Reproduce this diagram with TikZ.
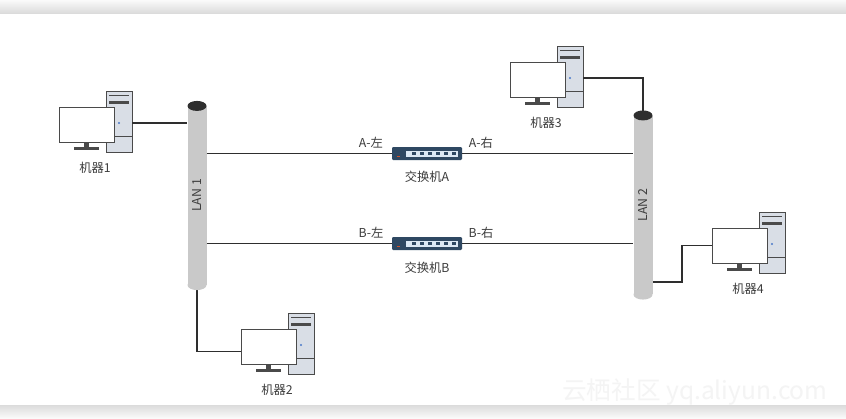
\documentclass[tikz,border=0pt]{standalone}
\usepackage{fontspec}
\setmainfont{Noto Sans CJK SC}
\definecolor{txt}{HTML}{3C3C3C}
\definecolor{wire}{HTML}{2E2E2E}
\definecolor{edge}{HTML}{4A4A4A}
\definecolor{case}{HTML}{D9DEE6}
\definecolor{led}{HTML}{4A78C8}
\definecolor{lanbody}{HTML}{C9C9C9}
\definecolor{lanend}{HTML}{2E2E2E}
\definecolor{swbody}{HTML}{2F4862}
\definecolor{panel}{HTML}{DCE8F4}
\definecolor{ledred}{HTML}{D0502A}

\begin{document}
\begin{tikzpicture}[x=0.03cm,y=-0.03cm,
	font=\fontsize{10.5}{12}\selectfont, text=txt,
	wire/.style={draw=wire,line width=1.6pt},
	screen/.style={draw=edge,fill=white,line width=0.8pt,minimum width=1.65cm,minimum height=1.05cm,inner sep=0pt},
	swbox/.style={fill=swbody,rounded corners=1pt,minimum width=2.1cm,minimum height=0.39cm,inner sep=0pt},
	lan/.style={rectangle,fill=lanbody,minimum width=0.57cm,minimum height=5.36cm,inner sep=0pt},
	lanrim/.style={x radius=0.285cm,y radius=0.15cm},
	pc/.pic={
		\draw[draw=edge,fill=case,line width=0.8pt] (0,0) rectangle (26,61);
		\draw[edge,line width=0.6pt] (3,4) -- (23,4);
		\fill[edge] (3,10) rectangle (23,13);
		\draw[edge,line width=0.6pt] (0,45) -- (26,45);
		\fill[led] (13,32) circle (1pt);
		\fill[edge] (-22,51) rectangle (-17,56);
		\fill[edge] (-32,56) rectangle (-7,58.5);
		\node[screen] (-screen) at (-19.5,33.5) {};
		\coordinate (-port) at (26,32);
		\node (-name) at (-11,77) {#1};
	},
	switch/.pic={
		\node[swbox] (-box) at (0,0) {};
		\fill[panel] (-21,-2.5) rectangle (31,3.5);
		\foreach \i in {0,...,5} \fill[swbody] (-15+8*\i,-1.5) rectangle ++(4,3);
		\fill[ledred] (-30,2) rectangle (-27,3.5);
	}]
	% page
	\fill[white] (0,0) rectangle (846,418);
	\shade[top color=gray!4,bottom color=gray!28] (0,0) rectangle (846,13);
	\shade[top color=gray!28,bottom color=gray!4] (0,405) rectangle (846,418);
	\useasboundingbox (0,0) rectangle (846,418);
	\node[text=gray!9,font=\fontsize{21}{24}\selectfont] (mark) at (695,392) {云栖社区 yq.aliyun.com};
	
	% the two LANs
	\node[lan,label={[rotate=90]center:LAN 1}] (lan1) at (197,195.5) {};
	\node[lan,label={[rotate=90]center:LAN 2}] (lan2) at (643,205) {};
	
	% machines
	\pic (pc1) at (106,91) {pc=机器1};
	\pic (pc2) at (288,313) {pc=机器2};
	\pic (pc3) at (557,46) {pc=机器3};
	\pic (pc4) at (759,212) {pc=机器4};
	
	% switches
	\pic (swA) at (427,153.5) {switch};
	\pic (swB) at (427,243.5) {switch};
	\node (aleft) at (371,143) {A-左};
	\node (aright) at (481,143) {A-右};
	\node (swAname) at (427,177) {交换机A};
	\node (bleft) at (371,233) {B-左};
	\node (bright) at (481,233) {B-右};
	\node (swBname) at (427,268) {交换机B};
	
	% cables
	\draw[wire] (pc1-port) -- (pc1-port -| lan1.west);
	\draw[wire] (lan1.east |- swA-box) -- (swA-box.west);
	\draw[wire] (swA-box.east) -- (swA-box.east -| lan2.west);
	\draw[wire] (lan1.east |- swB-box) -- (swB-box.west);
	\draw[wire] (swB-box.east) -- (swB-box.east -| lan2.west);
	\draw[wire] (pc3-port) -| (lan2.north);
	\draw[wire] (lan1.south) |- ([yshift=-0.15cm]pc2-screen.west);
	\coordinate (bend4) at (682,282);
	\draw[wire] (pc4-screen.west) -| (bend4) -- (bend4 -| lan2.east);
	
	% cylinder ends
	\fill[lanbody] (lan1.south) ellipse[lanrim];
	\fill[lanend] (lan1.north) ellipse[lanrim];
	\fill[lanbody] (lan2.south) ellipse[lanrim];
	\fill[lanend] (lan2.north) ellipse[lanrim];
\end{tikzpicture}
\end{document}
